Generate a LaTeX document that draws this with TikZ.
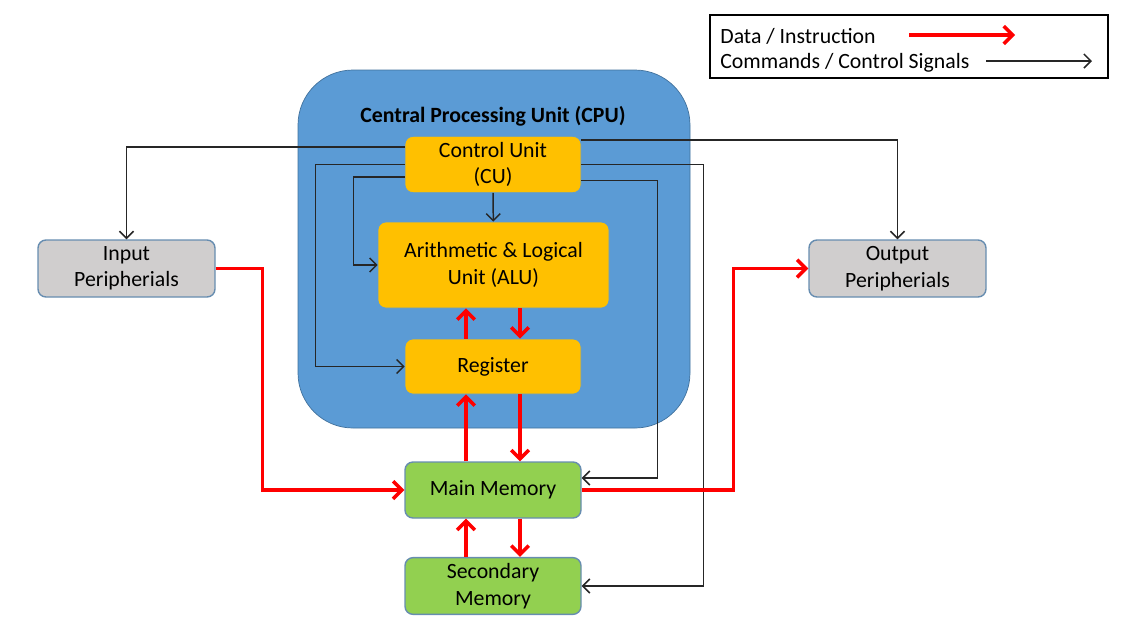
\documentclass[tikz,border=0pt]{standalone}
\usepackage{fontspec}
\setmainfont{Carlito}
\usepackage{xcolor}
\usepackage{tikz}
\usetikzlibrary{arrows.meta, positioning}
\definecolor{cpublue}{HTML}{5B9BD5}
\definecolor{cpuedge}{HTML}{41719C}
\definecolor{unitorange}{HTML}{FFC000}
\definecolor{memgreen}{HTML}{92D050}
\definecolor{perigray}{HTML}{D0CECE}
\tikzset{every node/.style={font=\fontsize{12.4}{15}\selectfont}}

\begin{document}
\begin{tikzpicture}
    % Define styles
    \tikzstyle{cpubox} = [rectangle, rounded corners=1.1cm, minimum width=7.84cm, minimum height=7.16cm, draw=cpuedge, fill=cpublue]
    \tikzstyle{unit} = [rectangle, rounded corners=0.16cm, minimum width=3.52cm, minimum height=1.1cm, text centered, align=center, draw=cpublue, fill=unitorange]
    \tikzstyle{memory} = [rectangle, rounded corners=0.16cm, minimum width=3.52cm, minimum height=1.12cm, text centered, align=center, draw=cpuedge!80, thick, fill=memgreen]
    \tikzstyle{periph} = [rectangle, rounded corners=0.16cm, minimum width=3.54cm, minimum height=1.14cm, text centered, align=center, draw=cpuedge!80, thick, fill=perigray]
    \tikzstyle{ctrl} = [->, >={Straight Barb[length=4pt,width=8pt]}, black!85, line width=0.85pt]
    \tikzstyle{data} = [->, >={Straight Barb[length=5pt,width=10pt]}, red, line width=2pt]

    \useasboundingbox (0,0) rectangle (22.68,-12.6);

    % CPU
    \node (cpu) [cpubox] at (9.88,-4.98) {};
    \node (cputitle) at (9.86,-2.32) {\bfseries Central Processing Unit (CPU)};

    % Units inside the CPU
    \node (cu) [unit] at (9.86,-3.29) {Control Unit\\(CU)};
    \node (alu) [unit, minimum width=4.62cm, minimum height=1.72cm] at (9.87,-5.3) {Arithmetic \& Logical\\Unit (ALU)};
    \node (register) [unit] at (9.86,-7.33) {Register};

    % Memories
    \node (main) [memory] at (9.86,-9.8) {Main Memory};
    \node (secondary) [memory] at (9.86,-11.72) {Secondary\\Memory};

    % Peripherals
    \node (input) [periph] at (2.53,-5.37) {Input\\Peripherials};
    \node (output) [periph] at (17.95,-5.37) {Output\\Peripherials};

    % Legend
    \node (legend) [rectangle, draw=black, line width=1pt, minimum width=7.96cm, minimum height=1.26cm] at (18.18,-0.93) {};
    \node (legdata) [anchor=west, inner sep=0pt] at (14.4,-0.72) {Data / Instruction};
    \node (legctrl) [anchor=west, inner sep=0pt] at (14.4,-1.26) {Commands / Control Signals};
    \coordinate (datafrom) at (18.18,-0.7);
    \coordinate (datato) at (20.3,-0.7);
    \coordinate (ctrlfrom) at (19.72,-1.22);
    \coordinate (ctrlto) at (21.84,-1.22);
    \draw [data] (datafrom) -- (datato);
    \draw [ctrl] (ctrlfrom) -- (ctrlto);

    % Control signals
    \draw [ctrl] ([yshift=0.35cm]cu.west) -| (input.north);
    \draw [ctrl] ([yshift=0.49cm]cu.east) -| (output.north);
    \draw [ctrl] (cu.west) -- ++(-1.78,0) |- (register.west);
    \draw [ctrl] ([yshift=-0.25cm]cu.west) -- ++(-1.02,0) |- (alu.west);
    \draw [ctrl] (cu) -- (alu);
    \draw [ctrl] (cu.east) -- ++(2.44,0) |- (secondary.east);
    \draw [ctrl] ([yshift=-0.32cm]cu.east) -- ++(1.52,0) |- ([yshift=0.24cm]main.east);

    % Data paths
    \draw [data] (input.east) -- ++(0.94,0) |- (main.west);
    \draw [data] (main.east) -- ++(3.04,0) |- (output.west);
    \draw [data] ([xshift=-0.54cm]register.north) -- ([xshift=-0.54cm]register.north |- alu.south);
    \draw [data] ([xshift=0.54cm]register.north |- alu.south) -- ([xshift=0.54cm]register.north);
    \draw [data] ([xshift=-0.54cm]main.north) -- ([xshift=-0.54cm]register.south);
    \draw [data] ([xshift=0.54cm]register.south) -- ([xshift=0.54cm]main.north);
    \draw [data] ([xshift=-0.54cm]secondary.north) -- ([xshift=-0.54cm]main.south);
    \draw [data] ([xshift=0.54cm]main.south) -- ([xshift=0.54cm]secondary.north);
\end{tikzpicture}
\end{document}
